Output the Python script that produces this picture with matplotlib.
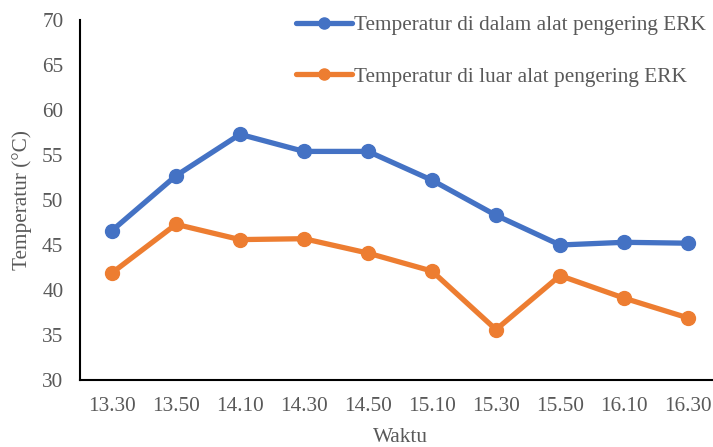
import matplotlib
matplotlib.use("Agg")
import matplotlib.pyplot as plt

times = ["13.30", "13.50", "14.10", "14.30", "14.50", "15.10", "15.30", "15.50", "16.10", "16.30"]
inside = [46.6, 52.7, 57.3, 55.4, 55.4, 52.2, 48.3, 45.0, 45.3, 45.2]
outside = [41.9, 47.3, 45.6, 45.7, 44.1, 42.1, 35.6, 41.6, 39.1, 36.9]
label_in = "Temperatur di dalam alat pengering ERK"
label_out = "Temperatur di luar alat pengering ERK"

plt.rcParams['font.family'] = ['Liberation Serif', 'DejaVu Serif']
grey = "#595959"
FS = 15.3

fig = plt.figure(figsize=(7.13, 4.47), dpi=100)
W, H = 713, 447
ax = fig.add_axes([80 / W, (H - 380) / H, 640 / W, 360 / H])

x = list(range(len(times)))
ax.plot(x, inside, color="#4472C4", lw=3.8, marker="o", ms=10, label=label_in, solid_capstyle="round")
ax.plot(x, outside, color="#ED7D31", lw=3.8, marker="o", ms=10, label=label_out, solid_capstyle="round")

ax.set_xlim(-0.5, len(times) - 0.5)
ax.set_ylim(30, 70)
ax.set_yticks(range(30, 71, 5))
ax.set_xticks(x)
ax.set_xticklabels(times)
ax.tick_params(axis="both", length=0, labelsize=FS, labelcolor=grey)
ax.tick_params(axis="y", pad=12)
ax.tick_params(axis="x", pad=12.5)
for s in ["top", "right"]:
    ax.spines[s].set_visible(False)
for s in ["left", "bottom"]:
    ax.spines[s].set_linewidth(1.5)
    ax.spines[s].set_color("black")

fig.text(22 / W, 1 - 200 / H, "Temperatur (°C)", rotation=90, ha="center", va="center", fontsize=FS, color=grey)
fig.text(400 / W, 1 - 437 / H, "Waktu", ha="center", va="center", fontsize=FS, color=grey)

leg = fig.legend(loc="upper left", bbox_to_anchor=(292 / W, 1 - 11 / H), frameon=False,
                 fontsize=FS, handlelength=2.6, labelspacing=1.5, handletextpad=0.1,
                 borderaxespad=0, borderpad=0.2, markerscale=0.8)
for t in leg.get_texts():
    t.set_color(grey)

fig.savefig("out.png", dpi=100)
